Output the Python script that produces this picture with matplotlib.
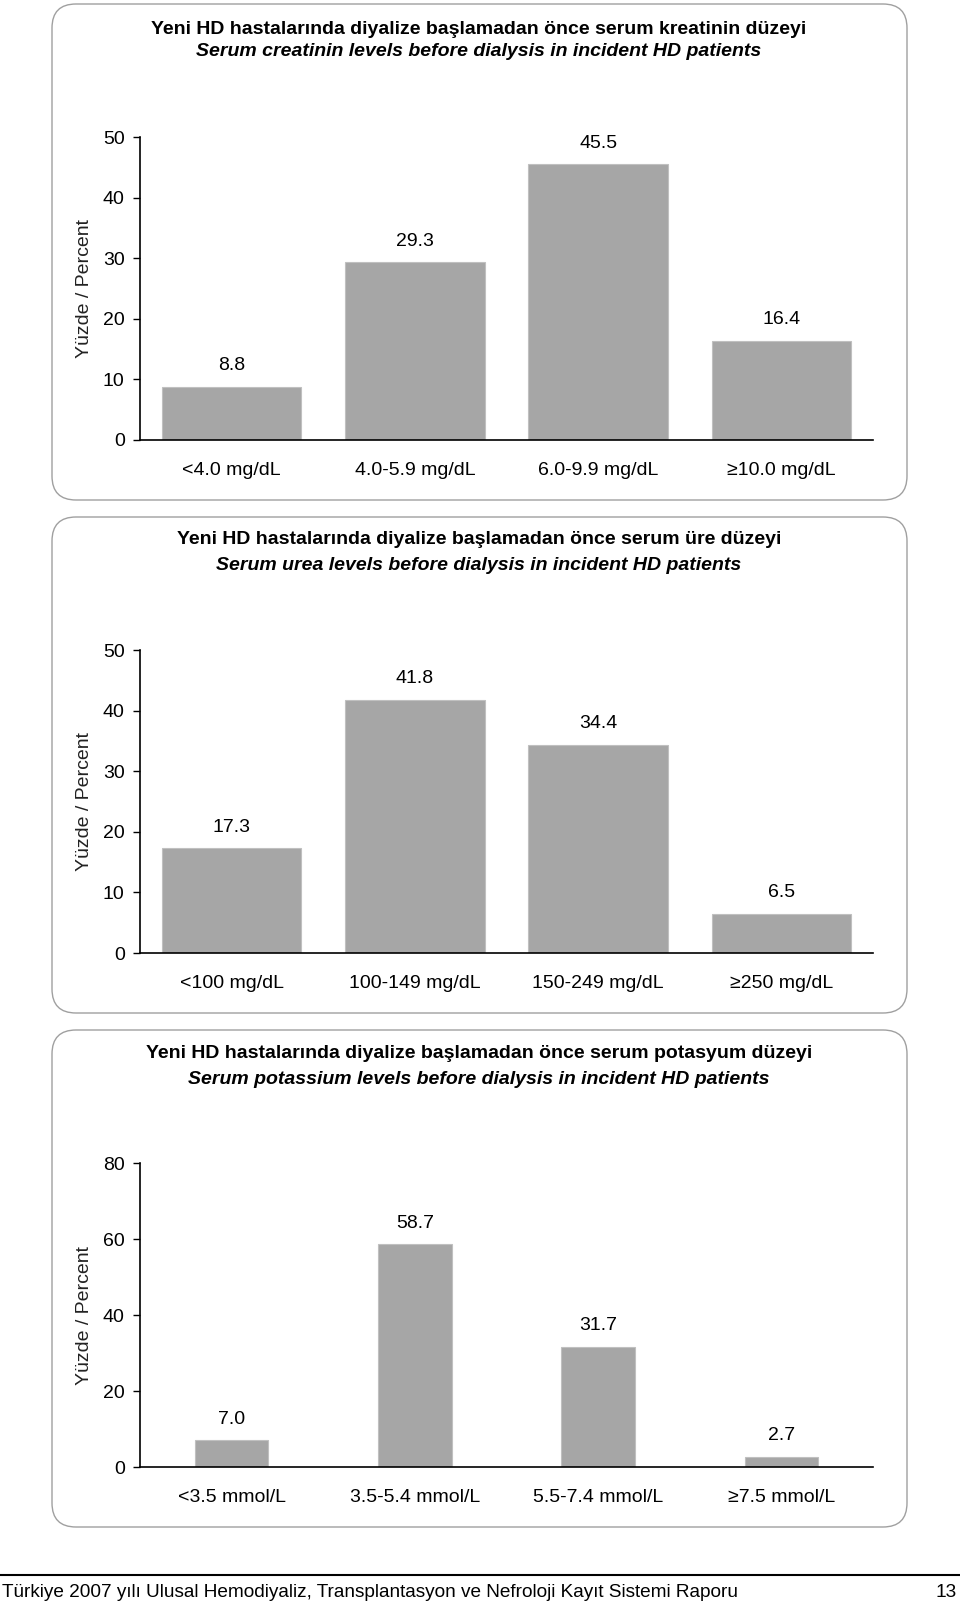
import matplotlib
matplotlib.use("Agg")
import matplotlib.pyplot as plt
from matplotlib.patches import FancyBboxPatch
from matplotlib.lines import Line2D
import numpy as np

plt.rcParams['font.family'] = ['Liberation Sans', 'DejaVu Sans']

# data
creat_cats = ['<4.0 mg/dL', '4.0-5.9 mg/dL', '6.0-9.9 mg/dL', '\u226510.0 mg/dL']
creat_vals = [8.8, 29.3, 45.5, 16.4]
urea_cats = ['<100 mg/dL', '100-149 mg/dL', '150-249 mg/dL', '\u2265250 mg/dL']
urea_vals = [17.3, 41.8, 34.4, 6.5]
potas_cats = ['<3.5 mmol/L', '3.5-5.4 mmol/L', '5.5-7.4 mmol/L', '\u22657.5 mmol/L']
potas_vals = [7.0, 58.7, 31.7, 2.7]

titles_tr = ['Yeni HD hastalarında diyalize başlamadan önce serum kreatinin düzeyi',
             'Yeni HD hastalarında diyalize başlamadan önce serum üre düzeyi',
             'Yeni HD hastalarında diyalize başlamadan önce serum potasyum düzeyi']
titles_en = ['Serum creatinin levels before dialysis in incident HD patients',
             'Serum urea levels before dialysis in incident HD patients',
             'Serum potassium levels before dialysis in incident HD patients']
ylabel = 'Yüzde / Percent'
footer = 'Türkiye 2007 yılı Ulusal Hemodiyaliz, Transplantasyon ve Nefroloji Kayıt Sistemi Raporu'
page_no = '13'

W, H = 960, 1601
fig = plt.figure(figsize=(W / 100, H / 100), dpi=100)

def fy(px):
    return 1 - px / H

# box (top, bottom px), axis (top, zero px), title y's
panels = [
    dict(cats=creat_cats, vals=creat_vals, box=(4, 500), ax=(137, 440), ty=(29, 52),
         ymax=50, ticks=[0, 10, 20, 30, 40, 50], bw=0.76),
    dict(cats=urea_cats, vals=urea_vals, box=(517, 1013), ax=(650, 953), ty=(539, 565),
         ymax=50, ticks=[0, 10, 20, 30, 40, 50], bw=0.76),
    dict(cats=potas_cats, vals=potas_vals, box=(1030, 1527), ax=(1163, 1467), ty=(1054, 1080),
         ymax=80, ticks=[0, 20, 40, 60, 80], bw=0.40),
]

ax_left, ax_right = 140, 873
for i, p in enumerate(panels):
    b0, b1 = p['box']
    box = FancyBboxPatch((52 / W, fy(b1)), (907 - 52) / W, (b1 - b0) / H,
                         boxstyle="round,pad=0,rounding_size=0.025",
                         transform=fig.transFigure, facecolor='none',
                         edgecolor='#a0a0a0', linewidth=1.0, mutation_aspect=W / H)
    fig.patches.append(box)

    fig.text(0.499, fy(p['ty'][0]), titles_tr[i], ha='center', va='center',
             fontsize=14, fontweight='bold')
    fig.text(0.499, fy(p['ty'][1]), titles_en[i], ha='center', va='center',
             fontsize=14, fontweight='bold', fontstyle='italic')

    a0, a1 = p['ax']
    ax = fig.add_axes([ax_left / W, fy(a1), (ax_right - ax_left) / W, (a1 - a0) / H])
    ax.patch.set_alpha(0)
    x = np.arange(len(p['cats']))
    ax.bar(x, p['vals'], width=p['bw'], color='#a6a6a6', edgecolor='#c0c0c0', linewidth=0.8)
    for xi, v in zip(x, p['vals']):
        ax.annotate(f'{v:.1f}', (xi, v), xytext=(0, 15), textcoords='offset points',
                    ha='center', va='center', fontsize=14)
    ax.set_xlim(-0.5, len(p['cats']) - 0.5)
    ax.set_ylim(0, p['ymax'])
    ax.set_yticks(p['ticks'])
    ax.set_xticks(x)
    ax.set_xticklabels(p['cats'], fontsize=14)
    ax.tick_params(axis='x', length=0, pad=16)
    ax.tick_params(axis='y', length=5, width=1, labelsize=14, pad=6)
    for s in ['top', 'right']:
        ax.spines[s].set_visible(False)
    for s in ['left', 'bottom']:
        ax.spines[s].set_linewidth(1.2)
    ax.set_ylabel(ylabel, fontsize=14, color='#222222')
    ax.yaxis.set_label_coords(-(ax_left - 93) / (ax_right - ax_left), 0.5)

# footer
fig.add_artist(Line2D([0, 1], [fy(1575), fy(1575)], transform=fig.transFigure,
                      color='black', linewidth=1.5))
fig.text(0.002, fy(1592), footer, ha='left', va='center', fontsize=13.7)
fig.text(0.997, fy(1592), page_no, ha='right', va='center', fontsize=13.7)

fig.savefig('out.png', dpi=100, facecolor='white')
